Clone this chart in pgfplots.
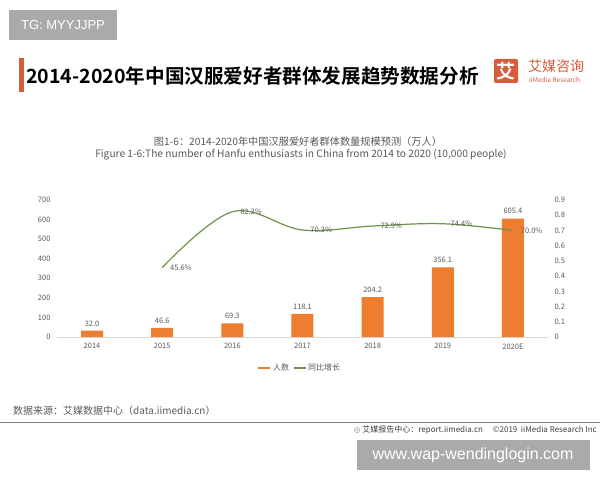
\documentclass[border=0pt]{standalone}
\usepackage{pgfplots}
\pgfplotsset{compat=1.18}
\usepackage{fontspec}
\setmainfont{Noto Sans CJK SC}
\newfontfamily\cjkb{Noto Sans CJK SC Bold}
\newfontfamily\arial{Liberation Sans}
\definecolor{barorange}{RGB}{237,125,49}
\definecolor{lgreen}{RGB}{112,146,70}
\definecolor{txtgray}{RGB}{89,89,89}
\definecolor{logored}{RGB}{214,92,60}
\definecolor{wmgray}{RGB}{170,170,170}
\begin{document}
\begin{tikzpicture}[x=1pt,y=1pt]
\useasboundingbox (0,0) rectangle (600,480);
\fill[white] (0,0) rectangle (600,480);
% watermark top
\fill[wmgray] (9,440) rectangle (117,470);
\node[white,font=\arial\fontsize{13}{15}\selectfont] at (63,455) {TG: MYYJJPP};
% title
\fill[logored] (19,388) rectangle (24,422);
\node[anchor=west,inner sep=0,font=\cjkb\fontsize{19.6}{21}\selectfont] at (26,404) {2014-2020年中国汉服爱好者群体发展趋势数据分析};
% logo
\fill[logored,rounded corners=2pt] (494,397) rectangle (518,421);
\node[white,inner sep=0,font=\cjkb\fontsize{19}{20}\selectfont] at (506,409) {艾};
\node[anchor=west,inner sep=0,logored,font=\fontsize{14}{15}\selectfont] at (528,414) {艾媒咨询};
\node[anchor=west,inner sep=0,logored,font=\fontsize{6.5}{7}\selectfont] at (529,400) {iiMedia Research};
% subtitle
\node[txtgray,inner sep=0,font=\fontsize{10.2}{11}\selectfont] at (298,338) {图1-6：2014-2020年中国汉服爱好者群体数量规模预测（万人）};
\node[txtgray,inner sep=0,font=\fontsize{10.2}{11}\selectfont] at (301,325) {Figure 1-6:The number of Hanfu enthusiasts in China from 2014 to 2020 (10,000 people)};
% main axis
\begin{axis}[
  at={(57pt,143pt)}, anchor=south west,
  scale only axis, width=491pt, height=137pt,
  xmin=-0.5, xmax=6.5, ymin=0, ymax=700,
  xtick={0,...,6}, xticklabels={2014,2015,2016,2017,2018,2019,2020E},
  ytick={0,100,200,300,400,500,600,700},
  axis x line*=bottom, axis y line*=left,
  y axis line style={draw=none},
  x axis line style={draw={rgb,255:red,217;green,217;blue,217},line width=0.8pt},
  major tick length=0pt,
  tick label style={txtgray,font=\fontsize{7.5}{9}\selectfont},
  /pgf/number format/assume math mode=true,
  xticklabel style={yshift=-3pt},
  yticklabel style={xshift=-3pt},
  clip=false,
]
\addplot[ybar, bar width=22pt, fill=barorange, draw=none,
  nodes near coords={\pgfmathprintnumber[fixed,fixed zerofill,precision=1,assume math mode=true]{\pgfplotspointmeta}},
  nodes near coords style={txtgray,font=\fontsize{7.5}{9}\selectfont,yshift=1pt},
] coordinates {(0,32.0) (1,46.6) (2,69.3) (3,118.1) (4,204.2) (5,356.1) (6,605.4)};
\end{axis}
% secondary axis
\begin{axis}[
  at={(57pt,143pt)}, anchor=south west,
  scale only axis, width=491pt, height=137pt,
  xmin=-0.5, xmax=6.5, ymin=0, ymax=0.9,
  axis x line=none, axis y line*=right,
  y axis line style={draw=none},
  ytick={0,0.1,0.2,0.3,0.4,0.5,0.6,0.7,0.8,0.9},
  yticklabels={0,0.1,0.2,0.3,0.4,0.5,0.6,0.7,0.8,0.9},
  major tick length=0pt,
  tick label style={txtgray,font=\fontsize{7.5}{9}\selectfont},
  yticklabel style={xshift=3pt},
  clip=false,
  legend columns=2,
  legend style={at={(0.495,-0.226)},anchor=center,draw=none,fill=none,
    font=\fontsize{8}{9}\selectfont,text=txtgray,
    /tikz/every even column/.append style={column sep=2pt}},
  legend image code/.code={\draw[#1,line width=1.2pt] (0pt,0pt) -- (12pt,0pt);},
]
\addlegendimage{barorange,line width=5pt}
\addlegendentry{人数}
\addplot[lgreen, line width=1.2pt, smooth, tension=0.6,
  point meta=explicit symbolic,
  nodes near coords,
  nodes near coords style={anchor=west,txtgray,font=\fontsize{7.5}{9}\selectfont,xshift=4pt,yshift=0pt},
] coordinates {(1,0.456) [45.6\%] (2,0.823) [82.3\%] (3,0.703) [70.3\%] (4,0.729) [72.9\%] (5,0.744) [74.4\%] (6,0.700) [70.0\%]};
\addlegendentry{同比增长}
\end{axis}
% source
\node[anchor=west,inner sep=0,txtgray,font=\fontsize{10}{11}\selectfont] at (13,69) {数据来源：艾媒数据中心（data.iimedia.cn）};
\draw[gray,line width=0.8pt] (0,58) -- (600,58);
\node[anchor=east,inner sep=0,black!75,font=\fontsize{8}{9}\selectfont] at (597,50) {$\oplus$ 艾媒报告中心：report.iimedia.cn\hspace{10pt}©2019\ \ iiMedia Research Inc};
% watermark bottom
\fill[wmgray] (357,10) rectangle (590,40);
\node[white,font=\arial\fontsize{16}{18}\selectfont] at (473,25) {www.wap-wendinglogin.com};
\end{tikzpicture}
\end{document}
